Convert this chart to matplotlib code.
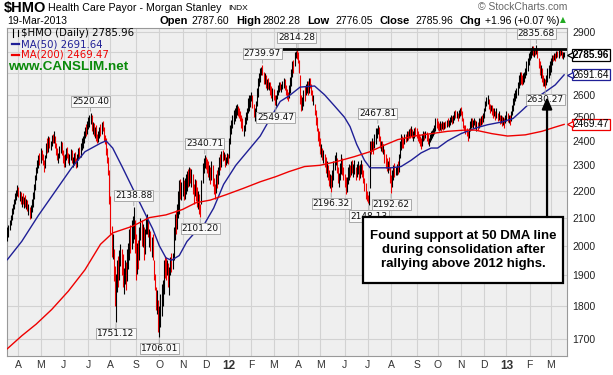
import numpy as np
import matplotlib
matplotlib.use("Agg")
import matplotlib.pyplot as plt
from matplotlib.patches import Rectangle
from matplotlib.ticker import FixedLocator, NullLocator, NullFormatter
import matplotlib.transforms as mtransforms

# daily bars, 18-Mar-2011 .. 19-Mar-2013 (one entry per trading day)
low = [
    2015, 2030, 2055, 2075, 2090, 2115, 2130, 2150, 2165, 2180,
    2175, 2160, 2150, 2140, 2150, 2135, 2140, 2130, 2125, 2110,
    2095, 2100, 2120, 2140, 2170, 2205, 2240, 2270, 2290, 2300,
    2310, 2320, 2300, 2275, 2290, 2330, 2350, 2355, 2370, 2360,
    2380, 2390, 2390, 2370, 2340, 2320, 2310, 2330, 2350, 2340,
    2310, 2295, 2295, 2320, 2330, 2310, 2300, 2320, 2310, 2295,
    2300, 2310, 2290, 2295, 2320, 2330, 2335, 2360, 2370, 2390,
    2410, 2420, 2430, 2450, 2460, 2470, 2440, 2430, 2420, 2410,
    2400, 2390, 2395, 2410, 2420, 2430, 2440, 2400, 2385, 2340,
    2310, 2260, 2150, 2040, 1960, 1955, 1880, 1800, 1751.12, 1845,
    1860, 1885, 1930, 1900, 1862, 1840, 1870, 1851, 1880, 1920,
    1950, 1975, 1990, 2010, 2025, 1975, 1883, 1905, 1920, 1950,
    2020, 2000, 1996, 1950, 1970, 2040, 2042, 2030, 1996, 1980,
    1960, 1950, 1883, 1851, 1790, 1777, 1720, 1706.01, 1737, 1770,
    1800, 1840, 1890, 1883, 1900, 1860, 1835, 1900, 1910, 1920,
    1950, 2019, 2042, 2060, 2100, 2115, 2170, 2164, 2180, 2164,
    2170, 2189, 2200, 2215, 2220, 2230, 2215, 2189, 2152, 2180,
    2160, 2139, 2130, 2115, 2101.20, 2150, 2230, 2270, 2290, 2285,
    2270, 2253, 2240, 2227, 2240, 2220, 2189, 2170, 2190, 2210,
    2227, 2260, 2280, 2292, 2318, 2320, 2292, 2300, 2310, 2305,
    2330, 2386, 2430, 2455, 2470, 2484, 2498, 2510, 2505, 2498,
    2484, 2455, 2441, 2420, 2440, 2470, 2490, 2520, 2526, 2545,
    2570, 2540, 2500, 2484, 2510, 2550, 2590, 2640, 2660, 2690,
    2690, 2650, 2650, 2629, 2620, 2625, 2620, 2600, 2585, 2570,
    2575, 2555, 2549.47, 2580, 2599, 2614, 2620, 2614, 2625, 2630,
    2620, 2600, 2580, 2570, 2584, 2610, 2640, 2680, 2700, 2735,
    2770, 2765, 2750, 2700, 2560, 2526, 2530, 2550, 2570, 2599,
    2610, 2600, 2610, 2630, 2600, 2570, 2555, 2510, 2469, 2441,
    2400, 2380, 2345, 2332, 2320, 2310, 2292, 2270, 2253, 2240,
    2220, 2210, 2196.32, 2215, 2240, 2280, 2300, 2270, 2230, 2215,
    2240, 2266, 2260, 2240, 2215, 2189, 2195, 2227, 2240, 2253,
    2260, 2270, 2253, 2266, 2240, 2253, 2266, 2240, 2250, 2266,
    2253, 2230, 2200, 2170, 2160, 2155, 2148.13, 2210, 2345, 2359,
    2345, 2372, 2386, 2413, 2430, 2400, 2372, 2359, 2352, 2345,
    2310, 2290, 2279, 2270, 2280, 2230, 2192.62, 2215, 2240, 2253,
    2260, 2262, 2266, 2275, 2330, 2360, 2372, 2372, 2385, 2395,
    2400, 2405, 2410, 2413, 2420, 2410, 2400, 2413, 2420, 2413,
    2400, 2390, 2380, 2365, 2380, 2400, 2405, 2413, 2400, 2385,
    2380, 2395, 2405, 2413, 2420, 2427, 2441, 2455, 2445, 2441,
    2445, 2440, 2450, 2445, 2450, 2455, 2460, 2462, 2458, 2465,
    2480, 2470, 2475, 2490, 2498, 2495, 2484, 2498, 2505, 2510,
    2484, 2455, 2441, 2427, 2420, 2400, 2410, 2441, 2455, 2460,
    2455, 2465, 2455, 2441, 2446, 2455, 2462, 2469, 2472, 2480,
    2498, 2526, 2548, 2560, 2535, 2520, 2526, 2510, 2498, 2505,
    2490, 2498, 2484, 2490, 2470, 2475, 2462, 2465, 2455, 2477,
    2484, 2480, 2477, 2469, 2484, 2510, 2526, 2555, 2570, 2584,
    2599, 2629, 2645, 2650, 2645, 2650, 2660, 2676, 2691, 2710,
    2739, 2760, 2771, 2787, 2780, 2775, 2787, 2790, 2771, 2723,
    2691, 2676, 2660, 2640, 2640, 2630.27, 2645, 2660, 2676, 2691,
    2707, 2739, 2755, 2760, 2755, 2771, 2775, 2771, 2780, 2785,
    2770, 2765, 2776.05,
]
high = [
    2065, 2075, 2090, 2110, 2135, 2150, 2170, 2190, 2205, 2222,
    2215, 2200, 2195, 2180, 2190, 2175, 2185, 2170, 2165, 2150,
    2140, 2145, 2170, 2195, 2225, 2260, 2295, 2320, 2340, 2350,
    2370, 2360, 2345, 2320, 2340, 2390, 2410, 2420, 2415, 2400,
    2425, 2430, 2440, 2420, 2390, 2370, 2350, 2380, 2400, 2395,
    2360, 2340, 2345, 2370, 2375, 2350, 2345, 2365, 2360, 2335,
    2350, 2355, 2330, 2345, 2370, 2375, 2390, 2410, 2420, 2440,
    2460, 2470, 2485, 2500, 2510, 2520.40, 2510, 2480, 2475, 2460,
    2465, 2430, 2440, 2460, 2470, 2480, 2482, 2460, 2425, 2410,
    2370, 2335, 2280, 2180, 2070, 2040, 1990, 1930, 1905, 1950,
    1965, 1985, 2007, 1990, 1973, 1925, 1950, 1945, 1990, 2010,
    2060, 2075, 2090, 2105, 2138.88, 2090, 2040, 2010, 2020, 2066,
    2100, 2090, 2078, 2066, 2060, 2102, 2115, 2090, 2060, 2050,
    2030, 2040, 1950, 1905, 1862, 1851, 1820, 1800, 1840, 1870,
    1885, 1950, 1965, 1961, 1950, 1940, 1928, 1960, 1975, 1975,
    2066, 2115, 2127, 2150, 2200, 2240, 2245, 2235, 2253, 2240,
    2250, 2266, 2279, 2285, 2292, 2290, 2285, 2266, 2227, 2245,
    2240, 2215, 2200, 2189, 2150, 2240, 2310, 2330, 2340.71, 2335,
    2325, 2318, 2300, 2292, 2318, 2300, 2250, 2225, 2266, 2280,
    2292, 2332, 2345, 2359, 2360, 2355, 2345, 2335, 2350, 2345,
    2410, 2469, 2490, 2512, 2530, 2541, 2555, 2557, 2550, 2541,
    2526, 2510, 2498, 2469, 2500, 2525, 2541, 2585, 2599, 2600,
    2614, 2600, 2560, 2540, 2570, 2629, 2676, 2700, 2723, 2730,
    2739.97, 2705, 2700, 2691, 2670, 2676, 2660, 2660, 2640, 2629,
    2625, 2600, 2599, 2620, 2645, 2660, 2660, 2650, 2665, 2676,
    2670, 2645, 2625, 2614, 2645, 2680, 2720, 2755, 2760, 2800,
    2805, 2814.28, 2800, 2760, 2690, 2600, 2590, 2620, 2640, 2650,
    2665, 2665, 2676, 2675, 2650, 2620, 2600, 2560, 2530, 2500,
    2455, 2441, 2413, 2386, 2372, 2360, 2345, 2332, 2318, 2300,
    2280, 2266, 2260, 2280, 2318, 2340, 2352, 2330, 2292, 2270,
    2310, 2345, 2330, 2292, 2266, 2253, 2255, 2292, 2305, 2300,
    2318, 2320, 2305, 2320, 2295, 2305, 2318, 2300, 2305, 2320,
    2305, 2280, 2250, 2230, 2200, 2185, 2200, 2400, 2400, 2413,
    2400, 2427, 2455, 2455, 2467.81, 2460, 2420, 2400, 2400, 2386,
    2365, 2345, 2330, 2318, 2332, 2292, 2260, 2280, 2300, 2310,
    2295, 2305, 2318, 2345, 2400, 2427, 2420, 2410, 2427, 2427,
    2441, 2440, 2450, 2455, 2462, 2450, 2440, 2455, 2460, 2455,
    2440, 2427, 2420, 2413, 2427, 2441, 2435, 2441, 2437, 2430,
    2413, 2427, 2441, 2445, 2455, 2469, 2498, 2498, 2484, 2475,
    2484, 2475, 2484, 2480, 2478, 2484, 2490, 2495, 2490, 2500,
    2512, 2505, 2512, 2526, 2530, 2526, 2520, 2530, 2541, 2545,
    2526, 2498, 2469, 2469, 2455, 2441, 2455, 2484, 2498, 2495,
    2490, 2498, 2490, 2484, 2480, 2498, 2495, 2505, 2512, 2520,
    2541, 2570, 2590, 2599, 2580, 2560, 2555, 2555, 2541, 2541,
    2526, 2541, 2520, 2526, 2512, 2512, 2505, 2500, 2498, 2512,
    2526, 2520, 2512, 2512, 2526, 2555, 2584, 2606, 2620, 2629,
    2660, 2691, 2707, 2707, 2691, 2700, 2707, 2723, 2755, 2771,
    2795, 2804, 2820, 2830, 2830, 2820, 2822, 2835.68, 2820, 2771,
    2755, 2740, 2723, 2691, 2676, 2670, 2691, 2723, 2739, 2755,
    2771, 2787, 2787, 2795, 2795, 2804, 2804, 2812, 2815, 2810,
    2805, 2800, 2802.28,
]
close = [
    2030, 2068, 2085, 2105, 2128, 2145, 2165, 2183, 2198, 2212,
    2185, 2190, 2160, 2170, 2155, 2165, 2150, 2160, 2135, 2140,
    2110, 2138, 2160, 2185, 2215, 2250, 2285, 2310, 2330, 2315,
    2360, 2330, 2310, 2295, 2335, 2385, 2375, 2410, 2380, 2395,
    2415, 2400, 2430, 2380, 2350, 2330, 2340, 2370, 2390, 2350,
    2320, 2305, 2335, 2360, 2340, 2320, 2338, 2355, 2318, 2325,
    2345, 2320, 2300, 2340, 2360, 2340, 2385, 2400, 2410, 2432,
    2450, 2440, 2478, 2490, 2495, 2505, 2450, 2470, 2430, 2450,
    2410, 2400, 2430, 2450, 2440, 2470, 2450, 2410, 2400, 2350,
    2330, 2275, 2170, 2060, 1975, 2020, 1900, 1810, 1895, 1935,
    1880, 1975, 1995, 1910, 1880, 1910, 1935, 1865, 1980, 1995,
    2050, 2010, 2080, 2095, 2120, 1990, 1900, 1995, 1940, 2055,
    2080, 2030, 2065, 1965, 2045, 2090, 2100, 2040, 2050, 1990,
    2015, 1955, 1895, 1880, 1800, 1830, 1735, 1790, 1830, 1860,
    1875, 1940, 1910, 1890, 1935, 1870, 1920, 1945, 1930, 1965,
    2055, 2100, 2060, 2140, 2190, 2230, 2185, 2220, 2240, 2175,
    2235, 2255, 2270, 2250, 2280, 2265, 2275, 2200, 2165, 2230,
    2170, 2150, 2185, 2125, 2110, 2230, 2300, 2320, 2330, 2300,
    2280, 2260, 2290, 2240, 2300, 2230, 2200, 2190, 2255, 2230,
    2285, 2320, 2310, 2350, 2340, 2345, 2300, 2325, 2340, 2315,
    2400, 2460, 2480, 2500, 2520, 2535, 2545, 2550, 2520, 2505,
    2490, 2465, 2450, 2460, 2490, 2515, 2535, 2575, 2590, 2595,
    2605, 2550, 2510, 2530, 2560, 2620, 2665, 2690, 2715, 2720,
    2700, 2665, 2690, 2640, 2660, 2635, 2650, 2610, 2595, 2620,
    2585, 2565, 2590, 2610, 2640, 2650, 2630, 2640, 2655, 2670,
    2630, 2610, 2590, 2580, 2635, 2670, 2710, 2745, 2740, 2790,
    2795, 2780, 2765, 2715, 2580, 2560, 2575, 2610, 2590, 2640,
    2655, 2610, 2670, 2640, 2610, 2580, 2590, 2520, 2480, 2450,
    2430, 2420, 2360, 2370, 2330, 2350, 2300, 2280, 2300, 2250,
    2235, 2255, 2210, 2270, 2310, 2330, 2345, 2280, 2240, 2255,
    2300, 2335, 2275, 2250, 2225, 2200, 2245, 2280, 2295, 2265,
    2310, 2285, 2295, 2310, 2250, 2298, 2305, 2252, 2295, 2312,
    2260, 2240, 2210, 2180, 2175, 2165, 2190, 2385, 2370, 2405,
    2360, 2420, 2445, 2450, 2455, 2410, 2385, 2390, 2360, 2375,
    2320, 2300, 2290, 2310, 2295, 2240, 2210, 2270, 2290, 2270,
    2285, 2290, 2275, 2335, 2390, 2415, 2410, 2390, 2420, 2405,
    2435, 2415, 2440, 2430, 2455, 2420, 2430, 2448, 2440, 2425,
    2410, 2400, 2392, 2380, 2415, 2430, 2420, 2435, 2410, 2395,
    2405, 2420, 2435, 2440, 2450, 2462, 2490, 2485, 2455, 2450,
    2478, 2450, 2475, 2460, 2470, 2465, 2482, 2470, 2480, 2495,
    2505, 2478, 2505, 2520, 2510, 2518, 2492, 2525, 2535, 2520,
    2490, 2462, 2450, 2445, 2430, 2410, 2450, 2475, 2490, 2470,
    2482, 2490, 2465, 2470, 2455, 2490, 2475, 2498, 2490, 2512,
    2535, 2562, 2580, 2590, 2545, 2535, 2545, 2520, 2505, 2535,
    2500, 2530, 2492, 2515, 2478, 2500, 2470, 2490, 2480, 2505,
    2518, 2495, 2505, 2480, 2520, 2550, 2578, 2600, 2612, 2622,
    2650, 2685, 2700, 2665, 2655, 2690, 2700, 2715, 2745, 2760,
    2785, 2795, 2812, 2820, 2795, 2810, 2800, 2815, 2780, 2730,
    2700, 2730, 2670, 2650, 2665, 2640, 2685, 2715, 2730, 2750,
    2765, 2780, 2770, 2790, 2765, 2795, 2780, 2805, 2790, 2800,
    2780, 2784, 2785.96,
]
last_open = 2787.60

# moving averages (trading-day index, value)
ma50_idx = [0, 13, 28, 43, 58, 70, 84, 89, 95, 104,
            113, 125, 131, 137, 143, 148, 155, 162, 170, 177,
            186, 195, 206, 219, 228, 237, 246, 254, 264, 277,
            286, 295, 304, 309, 315, 322, 327, 339, 346, 355,
            364, 373, 382, 388, 397, 409, 423, 433, 446, 456,
            464, 474, 487, 494, 502]
ma50_val = [1952, 2015, 2108, 2197, 2290, 2355, 2390, 2400, 2370, 2290,
            2210, 2108, 2060, 2000, 1958, 1950, 1966, 2015, 2050, 2072,
            2135, 2225, 2300, 2370, 2420, 2495, 2570, 2595, 2635, 2640,
            2600, 2550, 2500, 2460, 2385, 2320, 2290, 2290, 2290, 2295,
            2320, 2350, 2370, 2370, 2400, 2430, 2455, 2468, 2480, 2495,
            2530, 2576, 2620, 2645, 2691.64]
ma200_idx = [0, 13, 26, 40, 55, 70, 84, 95, 113, 128,
             143, 158, 170, 183, 197, 213, 228, 242, 254, 268,
             282, 297, 313, 327, 339, 352, 367, 382, 397, 412,
             422, 437, 451, 467, 482, 494, 502]
ma200_val = [1672, 1710, 1745, 1790, 1848, 1918, 2005, 2045, 2069, 2100,
             2110, 2130, 2155, 2165, 2185, 2210, 2235, 2255, 2275, 2295,
             2300, 2315, 2335, 2355, 2380, 2405, 2420, 2430, 2440, 2445,
             2445, 2430, 2420, 2425, 2440, 2458, 2469.47]

# trading days per month, starting with the partial Mar 2011
month_days = [10, 20, 21, 22, 20, 23, 21, 21, 21, 21,
              20, 20, 22, 20, 22, 21, 21, 23, 19, 21, 21, 20,
              21, 19]
month_names = ["A", "M", "J", "J", "A", "S", "O", "N", "D", "12", "F", "M",
               "A", "M", "J", "J", "A", "S", "O", "N", "D", "13", "F", "M"]

# price axis labels (2800 / 2700 sit under the value boxes on the original)
ytick_vals = [1700, 1800, 1900, 2000, 2100, 2200, 2300, 2400, 2500, 2600, 2900]
grid_vals = list(range(1700, 3000, 100))

peak_idx = [75, 114, 178, 230, 261, 334, 477]
trough_idx = [98, 137, 174, 242, 292, 326, 346, 485]
resist_start = 236
support_idx = 486.6

low = np.array(low, dtype=float)
high = np.array(high, dtype=float)
close = np.array(close, dtype=float)
n = len(close)
x = np.arange(n)

W, H = 613, 375
fig = plt.figure(figsize=(W / 100, H / 100), dpi=100)
ax = fig.add_axes([7 / W, 19 / H, 560 / W, 328 / H])
ax.set_facecolor("#efefef")


def px(xp, yp):
    return xp / W, 1 - yp / H


# bars
up = np.r_[True, close[1:] >= close[:-1]]
cols = np.where(up, "#000000", "#ee0000")
ax.vlines(x, low, high, colors=cols, lw=0.8, zorder=3)

ax.plot(ma50_idx, ma50_val, color="#1f1f96", lw=1.0, zorder=4)
ax.plot(ma200_idx, ma200_val, color="#ee0000", lw=1.0, zorder=4)

ax.set_yscale("log")
ax.set_ylim(1651, 2920)
ax.set_xlim(-0.3, 504.6)
ax.yaxis.set_major_locator(FixedLocator(ytick_vals))
ax.yaxis.set_minor_locator(FixedLocator(grid_vals))
ax.yaxis.set_minor_formatter(NullFormatter())
ax.set_yticklabels([str(v) for v in ytick_vals])
ax.yaxis.tick_right()
ax.tick_params(axis="y", which="both", length=0, pad=4, labelsize=7.5, labelcolor="#222222")

mticks = np.cumsum(month_days)
ax.xaxis.set_major_locator(FixedLocator(mticks))
ax.set_xticklabels(month_names)
ax.tick_params(axis="x", length=0, pad=3, labelsize=7.5, labelcolor="#333333")
for lab in ax.get_xticklabels():
    if lab.get_text() in ("12", "13"):
        lab.set_fontweight("bold")
        lab.set_fontsize(8.5)
for lab in ax.get_xticklabels() + ax.get_yticklabels():
    lab.set_fontfamily("Liberation Sans")

# grid on every 100 and every month start
ax.grid(True, which="both", color="#d2d2d2", lw=0.8, zorder=0)
ax.set_axisbelow(True)
for s in ax.spines.values():
    s.set_color("#999999")
    s.set_linewidth(0.8)

# resistance line at the April 2012 high
ax.hlines(high[261], resist_start, ax.get_xlim()[1], color="black", lw=2.0, zorder=5)

# peak / trough labels
lab_box = dict(boxstyle="square,pad=0.12", fc="#f9f9f9", ec="#a8a8a8", lw=0.7)
for i in peak_idx:
    ax.annotate(f"{high[i]:.2f}", xy=(i, high[i]), xytext=(0, 5), textcoords="offset points",
                ha="center", va="bottom", fontsize=6.5, color="#111111", bbox=lab_box,
                arrowprops=dict(arrowstyle="-", color="#a8a8a8", lw=0.7, shrinkA=0, shrinkB=1),
                zorder=6)
for i in trough_idx:
    ax.annotate(f"{low[i]:.2f}", xy=(i, low[i]), xytext=(0, -5), textcoords="offset points",
                ha="center", va="top", fontsize=6.5, color="#111111", bbox=lab_box,
                arrowprops=dict(arrowstyle="-", color="#a8a8a8", lw=0.7, shrinkA=0, shrinkB=1),
                zorder=6)

# callout box and arrow
ax.add_patch(Rectangle((0.636, 0.2226), 0.357, 0.201, transform=ax.transAxes,
                       fc="white", ec="black", lw=1.6, zorder=8))
ax.text(0.8145, 0.323, "Found support at 50 DMA line\nduring consolidation after\nrallying above 2012 highs.",
        transform=ax.transAxes, ha="center", va="center", fontsize=9.5, fontweight="bold",
        family="Liberation Sans", linespacing=1.22, zorder=9)
box_top = np.exp(np.log(1651) + 0.4236 * (np.log(2920) - np.log(1651)))
ax.annotate("", xy=(support_idx, 2590), xytext=(support_idx, box_top),
            arrowprops=dict(arrowstyle="-|>,head_length=0.7,head_width=0.3", color="black",
                            lw=1.6, shrinkA=0, shrinkB=0, mutation_scale=10), zorder=9)

# right-hand value boxes
bt = mtransforms.blended_transform_factory(ax.transAxes, ax.transData)
for val, ec, bold in [(close[-1], "black", True), (ma50_val[-1], "#1f1f96", False),
                      (ma200_val[-1], "#ee0000", False)]:
    ax.annotate(f"{val:.2f}", xy=(1, val), xycoords=("axes fraction", "data"),
                xytext=(4, 0), textcoords="offset points", ha="left", va="center",
                fontsize=7.2, fontweight="bold" if bold else "normal", family="Liberation Sans",
                bbox=dict(boxstyle="square,pad=0.06", fc="white", ec=ec, lw=0.9),
                annotation_clip=False, zorder=10)
    ax.plot([1.006], [val], marker="<", ms=5, mfc="white", mec=ec, mew=0.9,
            transform=bt, clip_on=False, zorder=11)

# legend inside plot
ax.text(0.025, 0.985, f"$HMO (Daily) {close[-1]:.2f}", transform=ax.transAxes,
        fontsize=7.3, va="center", ha="left", zorder=7)
ax.plot([0.010, 0.010], [0.972, 0.997], color="black", lw=0.8, transform=ax.transAxes, zorder=7)
ax.plot([0.019, 0.019], [0.975, 0.995], color="black", lw=0.8, transform=ax.transAxes, zorder=7)
ax.plot([0.009, 0.021], [0.951, 0.951], color="#1f1f96", lw=1.6, transform=ax.transAxes, zorder=7)
ax.text(0.025, 0.951, f"MA(50) {ma50_val[-1]:.2f}", transform=ax.transAxes, color="#1f1f96",
        fontsize=7.3, va="center", ha="left", zorder=7)
ax.plot([0.009, 0.021], [0.918, 0.918], color="#ee0000", lw=1.6, transform=ax.transAxes, zorder=7)
ax.text(0.025, 0.918, f"MA(200) {ma200_val[-1]:.2f}", transform=ax.transAxes, color="#ee0000",
        fontsize=7.3, va="center", ha="left", zorder=7)
ax.text(0.002, 0.881, "www.CANSLIM.net", transform=ax.transAxes, color="#0a8a0a",
        fontsize=9.7, fontweight="bold", family="Liberation Sans", va="center", ha="left", zorder=7)

# header
fig.text(*px(4, 8), "$HMO", fontsize=10.5, fontweight="bold", family="Liberation Sans", va="center")
fig.text(*px(48, 8), "Health Care Payor - Morgan Stanley", fontsize=7.7, family="Liberation Sans", va="center")
fig.text(*px(228, 9), "INDX", fontsize=6, family="Liberation Sans", va="center")
fig.text(*px(567, 7), "\u00a9 StockCharts.com", fontsize=7.5, color="#666666",
         family="Liberation Sans", va="center", ha="right")
fig.text(*px(7, 21), "19-Mar-2013", fontsize=7.5, family="Liberation Sans", va="center")
chg = close[-1] - close[-2]
pct = chg / close[-2] * 100
row = [(159, "Open", True), (191, f"{last_open:.2f}", False),
       (236, "High", True), (262, f"{high[-1]:.2f}", False),
       (307, "Low", True), (335, f"{low[-1]:.2f}", False),
       (380, "Close", True), (415, f"{close[-1]:.2f}", False),
       (460, "Chg", True), (485, f"{chg:+.2f} ({pct:+.2f} %)", False)]
for xp, s, b in row:
    fig.text(*px(xp, 21), s, fontsize=8 if b else 7.5, fontweight="bold" if b else "normal",
             family="Liberation Sans", va="center")
fig.text(*px(563, 20), "\u25b2", fontsize=5.5, color="#22aa22", va="center", ha="center")

fig.savefig("out.png", dpi=100)
